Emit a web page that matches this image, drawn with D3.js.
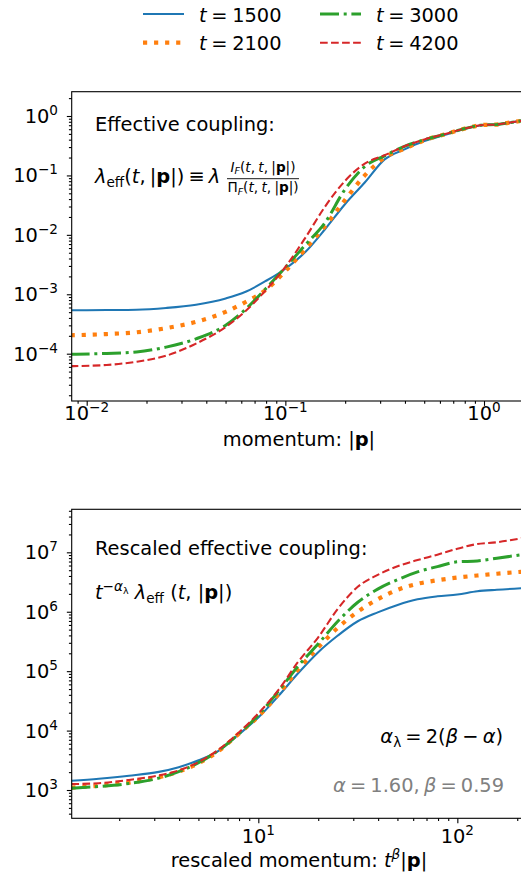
<!DOCTYPE html>
<html><head><meta charset="utf-8">
<script src="https://cdn.jsdelivr.net/npm/d3@7"></script>
<style>
body{margin:0;background:#fff}
svg{display:block}
text{font-family:"DejaVu Sans",sans-serif;white-space:pre}
</style>
</head><body>
<svg id="c" width="521" height="884"></svg>
<script>
// ---------------- data ----------------
const seriesTimes = [1500, 2100, 3000, 4200];

// top panel: momentum |p| and effective coupling
const momentum = [0.0083, 0.0126, 0.0178, 0.0251, 0.0355, 0.0501, 0.0631, 0.0794, 0.1, 0.126, 0.158, 0.2, 0.251, 0.316, 0.398, 0.501, 0.631, 0.794, 1.0, 1.15, 1.32, 1.66];
const lambda1500 = [5.37e-4, 5.43e-4, 5.50e-4, 5.89e-4, 6.68e-4, 8.51e-4, 1.10e-3, 1.66e-3, 2.69e-3, 5.13e-3, 0.0123, 0.0331, 0.0759, 0.186, 0.275, 0.380, 0.479, 0.603, 0.708, 0.716, 0.767, 0.861];
const lambda2100 = [2.04e-4, 2.14e-4, 2.29e-4, 2.69e-4, 3.43e-4, 5.07e-4, 7.41e-4, 1.17e-3, 2.45e-3, 5.75e-3, 0.0138, 0.0389, 0.100, 0.200, 0.282, 0.389, 0.490, 0.610, 0.708, 0.716, 0.767, 0.861];
const lambda3000 = [9.77e-5, 1.01e-4, 1.07e-4, 1.29e-4, 1.78e-4, 3.02e-4, 5.62e-4, 1.23e-3, 2.82e-3, 6.76e-3, 0.0158, 0.0589, 0.141, 0.214, 0.309, 0.398, 0.490, 0.610, 0.708, 0.716, 0.767, 0.861];
const lambda4200 = [6.17e-5, 6.46e-5, 7.33e-5, 9.23e-5, 1.48e-4, 2.82e-4, 5.25e-4, 1.15e-3, 2.88e-3, 8.91e-3, 0.0295, 0.0813, 0.158, 0.219, 0.309, 0.403, 0.495, 0.610, 0.708, 0.716, 0.767, 0.861];

// bottom panel: rescaled momentum t^beta|p| and rescaled coupling
const rescaledMomentum = [1.15, 1.58, 2.24, 3.16, 3.98, 5.01, 6.31, 7.94, 10, 12.6, 15.8, 20.0, 25.1, 31.6, 39.8, 50.1, 63.1, 79.4, 100, 126, 158, 224];
const rescaled1500 = [1429, 1549, 1738, 2018, 2427, 3162, 4571, 8511, 16600, 38020, 91200, 208900, 398100, 691800, 977200, 1.303e6, 1.622e6, 1.820e6, 1.950e6, 2.213e6, 2.344e6, 2.512e6];
const rescaled2100 = [1096, 1175, 1334, 1641, 2042, 2818, 4519, 8710, 17380, 40740, 104700, 251200, 537000, 1.0e6, 1.622e6, 2.344e6, 2.951e6, 3.388e6, 3.758e6, 4.074e6, 4.365e6, 4.786e6];
const rescaled3000 = [1072, 1148, 1288, 1585, 2042, 2884, 4624, 8710, 18200, 45710, 120200, 288400, 691800, 1.445e6, 2.399e6, 3.467e6, 4.677e6, 5.754e6, 6.918e6, 7.161e6, 7.943e6, 9.441e6];
const rescaled4200 = [1259, 1303, 1479, 1758, 2138, 2951, 4786, 9120, 19500, 47860, 141300, 371500, 1.122e6, 2.630e6, 4.169e6, 5.821e6, 7.413e6, 9.120e6, 1.148e7, 1.380e7, 1.479e7, 1.799e7];

// ticks
const topXTicks = [0.01, 0.1, 1];
const topXExp = ["−2", "−1", "0"];
const topYTicks = [1e-4, 1e-3, 1e-2, 1e-1, 1];
const topYExp = ["−4", "−3", "−2", "−1", "0"];
const botXTicks = [10, 100];
const botXExp = ["1", "2"];
const botYTicks = [1e3, 1e4, 1e5, 1e6, 1e7];
const botYExp = ["3", "4", "5", "6", "7"];

// ---------------- styles ----------------
const styles = [
  {color: "#1f77b4", width: 2.08, dash: null},
  {color: "#ff7f0e", width: 4.17, dash: "4.17,6.88"},
  {color: "#2ca02c", width: 3.0, dash: "19,4.7,3,4.7"},
  {color: "#d62728", width: 2.08, dash: "7.7,3.33"}
];
const FS = 19.4, FSS = 13.6, FSSS = 9.5;

const svg = d3.select("#c");

function rich(g, x, y, parts, opt = {}) {
  const t = g.append("text").attr("x", x).attr("y", y)
    .attr("font-size", opt.size || FS).attr("fill", opt.fill || "#000");
  if (opt.anchor) t.attr("text-anchor", opt.anchor);
  if (opt.ws) t.attr("word-spacing", opt.ws);
  let cur = 0;
  parts.forEach(p => {
    const s = t.append("tspan").text(p.t);
    const sh = p.sh || 0;
    if (sh !== cur) { s.attr("dy", sh - cur); cur = sh; }
    if (p.i) s.attr("font-style", "italic");
    if (p.b) s.attr("font-weight", "bold");
    if (p.fs) s.attr("font-size", p.fs);
  });
  return t;
}

function minorTicks(domain) {
  const out = [];
  const lo = Math.floor(Math.log10(domain[0])), hi = Math.ceil(Math.log10(domain[1]));
  for (let d = lo; d <= hi; d++) for (let k = 2; k <= 9; k++) {
    const v = k * Math.pow(10, d);
    if (v >= domain[0] && v <= domain[1]) out.push(v);
  }
  return out;
}

function panel(cfg) {
  const {L, R, T, B, xDom, yDom, xs, ys, id} = cfg;
  const x = d3.scaleLog().domain(xDom).range([L, R]);
  const y = d3.scaleLog().domain(yDom).range([B, T]);
  const g = svg.append("g");

  g.append("clipPath").attr("id", id).append("rect")
    .attr("x", L).attr("y", T).attr("width", R - L).attr("height", B - T);

  const line = d3.line().x(d => x(d[0])).y(d => y(d[1])).curve(d3.curveMonotoneX);
  const lg = g.append("g").attr("clip-path", `url(#${id})`);
  ys.forEach((arr, i) => {
    const st = styles[i];
    lg.append("path").datum(xs.map((v, j) => [v, arr[j]]))
      .attr("d", line).attr("fill", "none")
      .attr("stroke", st.color).attr("stroke-width", st.width)
      .attr("stroke-dasharray", st.dash)
      .attr("stroke-linejoin", "round");
  });

  const xMaj = d3.axisBottom(x).tickValues(cfg.xTicks).tickSize(4.86).tickSizeOuter(0).tickFormat(() => "");
  const xMin = d3.axisBottom(x).tickValues(minorTicks(xDom)).tickSize(2.78).tickSizeOuter(0).tickFormat(() => "");
  const yMaj = d3.axisLeft(y).tickValues(cfg.yTicks).tickSize(4.86).tickSizeOuter(0).tickFormat(() => "");
  const yMin = d3.axisLeft(y).tickValues(minorTicks(yDom)).tickSize(2.78).tickSizeOuter(0).tickFormat(() => "");
  [[xMaj, `translate(0,${B})`], [xMin, `translate(0,${B})`], [yMaj, `translate(${L},0)`], [yMin, `translate(${L},0)`]]
    .forEach(([ax, tr]) => {
      const a = g.append("g").attr("transform", tr).call(ax);
      a.select(".domain").remove();
      a.selectAll("line").attr("stroke", "#000").attr("stroke-width", 1.1);
    });

  g.append("rect").attr("x", L).attr("y", T).attr("width", R - L).attr("height", B - T)
    .attr("fill", "none").attr("stroke", "#000").attr("stroke-width", 1.1);

  cfg.xTicks.forEach((v, i) => {
    rich(g, x(v), cfg.xLabY, [{t: "10"}, {t: cfg.xExp[i], fs: FSS, sh: -8}], {anchor: "middle"});
  });
  cfg.yTicks.forEach((v, i) => {
    rich(g, cfg.yLabX, y(v) + 7, [{t: "10"}, {t: cfg.yExp[i], fs: FSS, sh: -8}], {anchor: "end"});
  });
  return {x, y, g};
}

const topPanel = panel({
  id: "clipTop", L: 71.7, R: 526, T: 91.7, B: 401,
  xDom: [Math.pow(10, -2.0755), Math.pow(10, 0.2114)],
  yDom: [Math.pow(10, -4.796), Math.pow(10, 0.409)],
  xs: momentum, ys: [lambda1500, lambda2100, lambda3000, lambda4200],
  xTicks: topXTicks, xExp: topXExp, yTicks: topYTicks, yExp: topYExp,
  xLabY: 420, yLabX: 58
});

const botPanel = panel({
  id: "clipBot", L: 71.7, R: 526, T: 509.3, B: 818.3,
  xDom: [Math.pow(10, 0.0623), Math.pow(10, 2.345)],
  yDom: [Math.pow(10, 2.524), Math.pow(10, 7.724)],
  xs: rescaledMomentum, ys: [rescaled1500, rescaled2100, rescaled3000, rescaled4200],
  xTicks: botXTicks, xExp: botXExp, yTicks: botYTicks, yExp: botYExp,
  xLabY: 843, yLabX: 58
});

// axis labels
rich(svg, 299, 446, [{t: "momentum: |"}, {t: "p", b: true}, {t: "|"}], {anchor: "middle"});
rich(svg, 299, 867, [{t: "rescaled momentum: "}, {t: "t", i: true}, {t: "β", i: true, fs: FSS, sh: -8}, {t: "|", sh: 0}, {t: "p", b: true}, {t: "|"}], {anchor: "middle"});

// annotations top
rich(svg, 95, 130.5, [{t: "Effective coupling:"}]);
rich(svg, 95, 183, [{t: "λ", i: true}, {t: "eff", fs: FSS, sh: 4}, {t: "(", sh: 0}, {t: "t", i: true}, {t: ", |"}, {t: "p", b: true}, {t: "|) ≡ "}, {t: "λ", i: true}], {ws: -2});
rich(svg, 263, 171.5, [{t: "I", i: true}, {t: "F", i: true, fs: FSSS, sh: 2.5}, {t: "(", sh: 0}, {t: "t", i: true}, {t: ", "}, {t: "t", i: true}, {t: ", |"}, {t: "p", b: true}, {t: "|)"}], {size: FSS, anchor: "middle", ws: -1});
svg.append("line").attr("x1", 227).attr("x2", 299).attr("y1", 178.7).attr("y2", 178.7).attr("stroke", "#000").attr("stroke-width", 0.9);
rich(svg, 263, 192, [{t: "Π"}, {t: "F", i: true, fs: FSSS, sh: 2.5}, {t: "(", sh: 0}, {t: "t", i: true}, {t: ", "}, {t: "t", i: true}, {t: ", |"}, {t: "p", b: true}, {t: "|)"}], {size: FSS, anchor: "middle", ws: -1});

// annotations bottom
rich(svg, 95, 555, [{t: "Rescaled effective coupling:"}]);
rich(svg, 95, 599, [{t: "t", i: true}, {t: "−", fs: FSS, sh: -8}, {t: "α", i: true, fs: FSS, sh: -8}, {t: "λ", fs: FSSS, sh: -5}, {t: " ", sh: 0}, {t: "λ", i: true}, {t: "eff", fs: FSS, sh: 4}, {t: " (", sh: 0}, {t: "t", i: true}, {t: ", |"}, {t: "p", b: true}, {t: "|)"}]);
rich(svg, 503, 743, [{t: "α", i: true}, {t: "λ", fs: FSS, sh: 4}, {t: " = 2(", sh: 0}, {t: "β", i: true}, {t: " − "}, {t: "α", i: true}, {t: ")"}], {anchor: "end", ws: -2});
rich(svg, 504, 792, [{t: "α", i: true}, {t: " = 1.60, "}, {t: "β", i: true}, {t: " = 0.59"}], {anchor: "end", fill: "#808080", ws: -2});

// legend
const legPos = [[143, 14, 199, 21.5], [143, 42.7, 199, 50], [320, 14, 376, 21.5], [320, 42.7, 376, 50]];
seriesTimes.forEach((t, i) => {
  const [lx, ly, tx, ty] = legPos[i];
  const st = styles[i];
  svg.append("line").attr("x1", lx).attr("x2", lx + 41).attr("y1", ly).attr("y2", ly)
    .attr("stroke", st.color).attr("stroke-width", st.width).attr("stroke-dasharray", st.dash);
  rich(svg, tx, ty, [{t: "t", i: true}, {t: " = " + t}], {ws: -1.5});
});
</script>
</body></html>
